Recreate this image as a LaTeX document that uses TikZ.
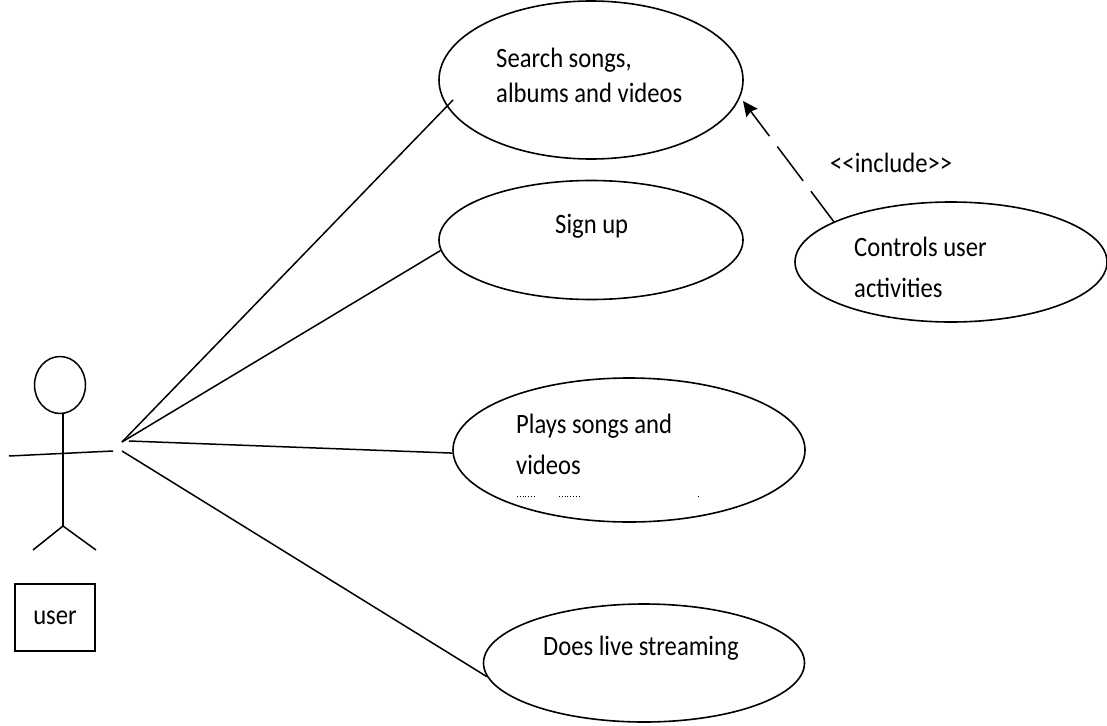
\documentclass[tikz,border=0pt]{standalone}
\usepackage{fontspec}
\setmainfont[FakeStretch=0.88]{Carlito}
\usetikzlibrary{arrows.meta, shapes.geometric}

\begin{document}
\begin{tikzpicture}[
        x=1pt, y=-1pt,
        usecasenode/.style={ellipse, draw=black, line width=1.6pt, inner sep=0pt},
        usecasetext/.style={anchor=west, align=left, inner sep=0pt, font=\fontsize{28}{35}\selectfont},
        stickline/.style={draw=black, line width=1.5pt},
        assocline/.style={draw=black, line width=1.5pt},
        includeline/.style={draw=black, line width=1.5pt, dash pattern=on 43pt off 13pt, dash phase=5pt, -{Stealth[length=15pt, width=14pt, inset=2pt]}},
]
        \useasboundingbox (0,0) rectangle (1107,725);

        \node[usecasenode, minimum width=304pt, minimum height=158pt] (search) at (591,80) {};
        \node[usecasenode, minimum width=304pt, minimum height=119pt] (signup) at (591,240) {};
        \node[usecasenode, minimum width=352pt, minimum height=144pt] (plays) at (629,450) {};
        \node[usecasenode, minimum width=321pt, minimum height=118pt] (streaming) at (644,663) {};
        \node[usecasenode, minimum width=312pt, minimum height=120pt] (controls) at (951,262) {};

        \node[usecasetext] (searchtext) at (496,75) {Search songs,\\albums and videos};
        \node[usecasetext] (signuptext) at (555,226) {Sign up};
        \node[usecasetext, font=\fontsize{28}{41}\selectfont] (playstext) at (516,444) {Plays songs and\\videos};
        \node[usecasetext] (streamingtext) at (543,648) {Does live streaming};
        \node[usecasetext, font=\fontsize{28}{41}\selectfont] (controlstext) at (854,267) {Controls user\\activities};
        \node[usecasetext] (includetext) at (830,163) {<{}<include>{}>};

        \draw[line width=0.8pt, dotted] (517,496) -- (535,496);
        \draw[line width=0.8pt, dotted] (559,496) -- (579,496);
        \draw[line width=0.8pt, dotted] (698,496) -- (699,496);

        \node[ellipse, draw=black, line width=1.5pt, inner sep=0pt, minimum width=51pt, minimum height=57pt] (head) at (60,385) {};
        \coordinate (hip) at (63,526);
        \coordinate (armleft) at (9,456);
        \coordinate (armright) at (113,451);
        \coordinate (footleft) at (33,550);
        \coordinate (footright) at (96,550);
        \draw[stickline] (head.south) ++(3,0) -- (hip);
        \draw[stickline] (armleft) -- (armright);
        \draw[stickline] (footleft) -- (hip) -- (footright);
        \node[draw=black, line width=1.5pt, minimum width=80pt, minimum height=67pt, inner sep=0pt, font=\fontsize{28}{35}\selectfont] (userbox) at (55,617.5) {user};

        \coordinate (handa) at (122,442);
        \coordinate (handb) at (129,441);
        \coordinate (handc) at (122,451);
        \coordinate (searchend) at (453,100);
        \draw[assocline] (handa) -- (searchend);
        \draw[assocline] (handa) -- (signup.184);
        \draw[assocline] (handb) -- (plays.181);
        \draw[assocline] (handc) -- (streaming.185);

        \coordinate (includetip) at (743,101);
        \draw[includeline] (controls.161) -- (includetip);
\end{tikzpicture}
\end{document}
